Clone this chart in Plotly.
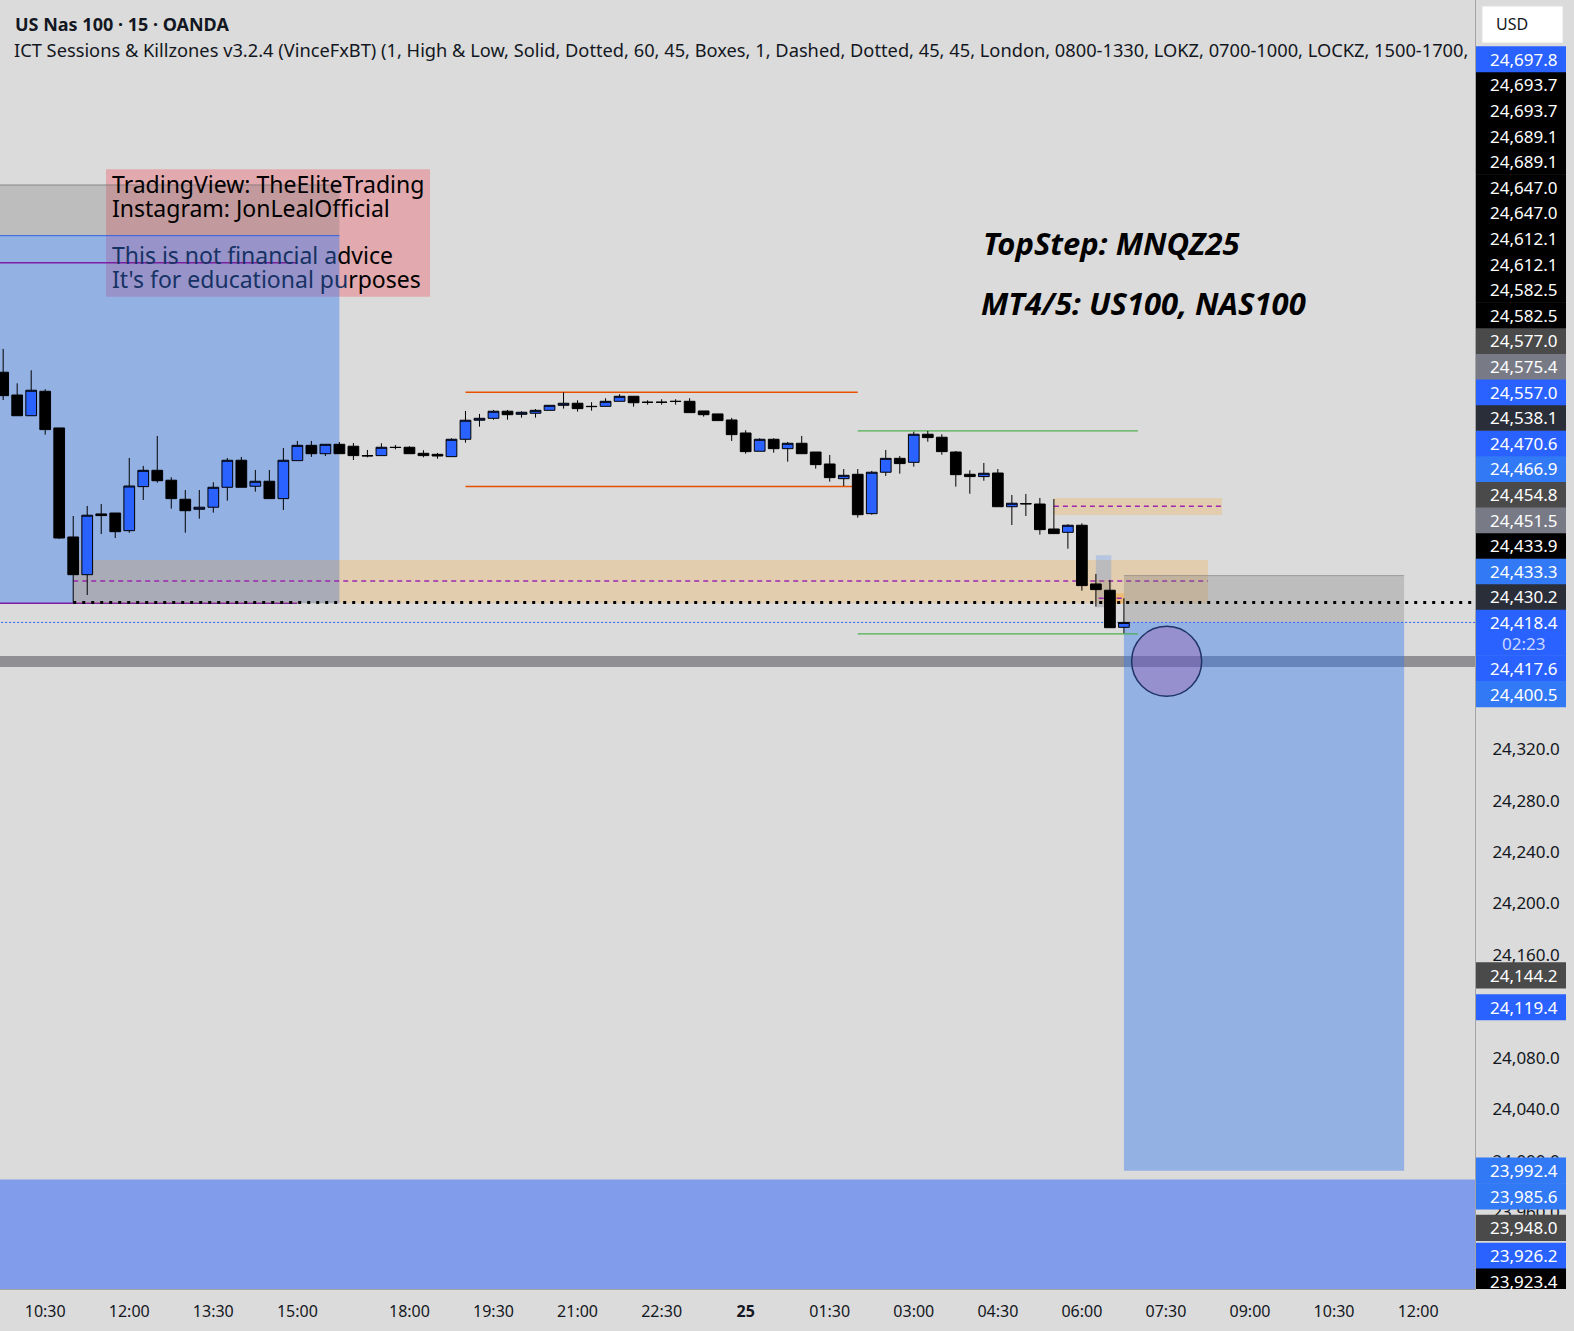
import plotly.graph_objects as go

# ---------------- data ----------------
BAR_INDEX = list(range(-3, 78))
OPEN = [24612.8, 24595.1, 24579.0, 24598.0, 24569.5, 24484.8, 24455.5, 24502.7, 24503.4, 24489.7,
        24523.9, 24536.6, 24528.9, 24514.1, 24506.3, 24507.9, 24523.4, 24544.4, 24524.2, 24528.1,
        24514.6, 24544.1, 24556.0, 24549.5, 24556.8, 24555.3, 24548.0, 24548.0, 24554.5, 24554.5,
        24549.8, 24549.0, 24547.2, 24560.7, 24575.5, 24577.0, 24582.5, 24580.1, 24580.9, 24583.2,
        24587.1, 24588.7, 24586.3, 24586.3, 24590.2, 24594.1, 24589.5, 24589.4, 24590.2, 24590.2,
        24582.7, 24580.4, 24575.7, 24565.6, 24551.4, 24560.7, 24553.4, 24557.6, 24550.8, 24541.5,
        24530.1, 24533.5, 24502.9, 24535.1, 24545.9, 24542.8, 24564.6, 24562.3, 24550.8, 24533.5,
        24531.7, 24534.5, 24508.3, 24510.8, 24510.4, 24491.0, 24488.4, 24493.9, 24448.3, 24443.4,
        24414.6]
HIGH = [24630.9, 24604.2, 24614.3, 24599.6, 24569.5, 24501.1, 24508.9, 24510.4, 24503.4, 24546.2,
        24540.0, 24563.3, 24531.2, 24521.3, 24521.3, 24527.3, 24546.2, 24547.0, 24536.9, 24536.9,
        24553.9, 24559.4, 24559.4, 24556.8, 24558.6, 24557.8, 24552.4, 24557.6, 24556.3, 24555.3,
        24552.2, 24550.1, 24561.5, 24582.7, 24580.4, 24583.5, 24583.5, 24582.5, 24584.2, 24587.1,
        24597.2, 24591.0, 24589.5, 24592.6, 24595.7, 24594.1, 24591.0, 24591.8, 24591.8, 24592.6,
        24582.7, 24580.4, 24577.3, 24567.7, 24561.5, 24561.5, 24558.6, 24563.3, 24550.8, 24548.5,
        24537.6, 24537.6, 24536.1, 24552.4, 24547.7, 24566.6, 24567.2, 24564.6, 24551.6, 24536.6,
        24542.3, 24537.6, 24517.4, 24518.2, 24515.1, 24514.3, 24494.7, 24495.4, 24456.1, 24451.4,
        24437.2]
LOW = [24591.2, 24579.0, 24579.0, 24564.3, 24483.2, 24433.9, 24439.7, 24487.1, 24484.0, 24488.1,
       24513.5, 24527.0, 24506.8, 24488.1, 24499.0, 24503.7, 24513.0, 24523.4, 24520.0, 24514.6,
       24505.8, 24544.1, 24547.0, 24547.7, 24549.5, 24544.6, 24546.7, 24548.0, 24552.9, 24549.5,
       24546.7, 24545.6, 24547.2, 24558.1, 24570.5, 24575.9, 24575.9, 24577.5, 24577.5, 24583.2,
       24584.5, 24582.2, 24582.9, 24586.3, 24590.2, 24586.0, 24587.6, 24587.6, 24587.6, 24581.4,
       24578.3, 24575.2, 24559.4, 24549.5, 24551.4, 24550.3, 24543.3, 24549.5, 24537.9, 24527.8,
       24524.4, 24499.8, 24502.1, 24532.2, 24534.0, 24539.4, 24558.8, 24548.7, 24523.9, 24518.4,
       24528.5, 24508.3, 24494.1, 24501.1, 24486.6, 24487.4, 24475.7, 24443.1, 24430.7, 24414.3,
       24410.0]
CLOSE = [24594.6, 24579.0, 24598.8, 24568.2, 24484.0, 24455.5, 24501.7, 24501.4, 24488.9, 24524.4,
         24536.6, 24528.5, 24514.6, 24505.2, 24507.9, 24523.4, 24544.4, 24523.4, 24528.1, 24514.6,
         24544.4, 24556.0, 24549.5, 24556.8, 24549.5, 24548.0, 24547.8, 24554.5, 24554.3, 24549.5,
         24548.0, 24547.7, 24560.7, 24575.5, 24577.0, 24582.5, 24579.8, 24581.7, 24583.2, 24587.1,
         24588.7, 24584.5, 24586.1, 24590.2, 24594.1, 24589.1, 24589.4, 24589.5, 24590.1, 24581.4,
         24579.8, 24575.2, 24564.3, 24551.1, 24560.7, 24553.4, 24557.6, 24549.5, 24541.0, 24530.9,
         24532.7, 24502.1, 24535.1, 24545.9, 24541.8, 24564.6, 24562.0, 24551.1, 24533.2, 24531.7,
         24534.3, 24508.3, 24511.0, 24510.5, 24490.5, 24487.4, 24493.9, 24447.0, 24443.9, 24414.3,
         24418.4]

TIME_TICK_INDEX = [0, 6, 12, 18, 26, 32, 38, 44, 50, 56, 62, 68, 74, 80, 86, 92, 98]
TIME_TICK_LABELS = ["10:30", "12:00", "13:30", "15:00", "18:00", "19:30", "21:00", "22:30", "<b>25</b>",
                    "01:30", "03:00", "04:30", "06:00", "07:30", "09:00", "10:30", "12:00"]
PRICE_TICKS = [24320, 24280, 24240, 24200, 24160, 24120, 24080, 24040, 24000, 23960]

BLUE, LBLUE, BLACK, DGRAY, GRAY, NAVY = "#2962ff", "#3179f5", "#000000", "#4a4a4a", "#787b86", "#2a2e39"
LABEL_VALUES = [24697.8, 24693.7, 24693.7, 24689.1, 24689.1, 24647.0, 24647.0, 24612.1, 24612.1,
                24582.5, 24582.5, 24577.0, 24575.4, 24557.0, 24538.1, 24470.6, 24466.9, 24454.8,
                24451.5, 24433.9, 24433.3, 24430.2, 24417.6, 24400.5, 24144.2, 24119.4, 23992.4,
                23985.6, 23948.0, 23926.2, 23923.4]
LABEL_COLORS = [BLUE, BLACK, BLACK, BLACK, BLACK, BLACK, BLACK, BLACK, BLACK,
                BLACK, BLACK, DGRAY, GRAY, BLUE, NAVY, BLUE, LBLUE, DGRAY,
                GRAY, BLACK, LBLUE, NAVY, BLUE, LBLUE, DGRAY, BLUE, LBLUE,
                LBLUE, DGRAY, BLUE, BLACK]
CURRENT_PRICE = 24418.4
COUNTDOWN = "02:23"

# drawing levels (prices) and spans (bar index)
SESSION_GRAY = (24718.9, 24758.3)
SESSION_BLUE = (24433.3, 24718.9)
SESSION_END = 21
SESSION_PURPLE = [24697.8, 24433.3]
PURPLE_END = 18
FVG_BIG = (24433.3, 24466.9, 2, 83)
FVG_BIG_MID = 24450.5
FVG_SMALL = (24501.9, 24515.1, 72, 84)
FVG_SMALL_MID = 24508.6
ORANGE_LEVELS = [24597.2, 24524.0]
ORANGE_SPAN = (30, 58)
GREEN_LEVELS = [24567.2, 24409.5]
GREEN_SPAN = (58, 78)
DOTTED_LOW = 24433.9
THICK_LEVEL = 24388.0
STOP = (24418.4, 24454.8)
TARGET = (23992.4, 24418.4)
POSITION_SPAN = (77, 97)
BOTTOM_BAND_TOP = 23985.6
CIRCLE = (80.05, 24388.2, 2.5, 27.2)
NOTE_BOX = (4.34, 27.47, 24671.5, 24770.5)
NOTE_LINES_Y = [24759.0, 24740.6, 24703.6, 24684.9]

# ---------------- geometry ----------------
W, H = 1574, 1331
ML, MR, MT, MB = 0, 99, 0, 42
PLOT_W, PLOT_H = W - ML - MR, H - MT - MB
Y_MIN, Y_MAX = 23900.5, 24902.0
X_MIN, X_MAX = -3.226, 102.06
FONT = "Noto Sans"

def ypx(p):
    return (Y_MAX - p) / (Y_MAX - Y_MIN) * PLOT_H

def py2paper(py):
    return 1 - py / PLOT_H

def px2paper(px):
    return px / PLOT_W

BLUE_FILL = "rgba(50,120,240,0.42)"
PEACH_FILL = "rgba(255,152,0,0.2)"
GRAY_FILL = "rgba(120,120,120,0.3)"

fig = go.Figure()
fig.add_trace(go.Candlestick(
    x=BAR_INDEX, open=OPEN, high=HIGH, low=LOW, close=CLOSE,
    increasing=dict(line=dict(color="#000000", width=1), fillcolor="#2962ff"),
    decreasing=dict(line=dict(color="#000000", width=1), fillcolor="#000000"),
    whiskerwidth=0, hoverinfo="skip", showlegend=False))

shapes = []

def rect(x0, x1, y0, y1, fill, layer="below", xref="x", yref="y"):
    shapes.append(dict(type="rect", xref=xref, yref=yref, x0=x0, x1=x1, y0=y0, y1=y1,
                       fillcolor=fill, line=dict(width=0), layer=layer))

def hline(y, x0, x1, color, width=1, dash="solid"):
    shapes.append(dict(type="line", xref="x", yref="y", x0=x0, x1=x1, y0=y, y1=y,
                       line=dict(color=color, width=width, dash=dash), layer="below"))

# note box (pink) and session boxes
rect(NOTE_BOX[0], NOTE_BOX[1], NOTE_BOX[2], NOTE_BOX[3], "rgba(242,54,69,0.3)")
rect(-10, SESSION_END, SESSION_GRAY[0], SESSION_GRAY[1], GRAY_FILL)
hline(SESSION_GRAY[1], -10, SESSION_END, "rgba(110,110,110,0.7)", 1)
rect(-10, SESSION_END, SESSION_BLUE[0], SESSION_BLUE[1], BLUE_FILL)
hline(SESSION_BLUE[1], -10, SESSION_END, "#2f5fe0", 1)
for lv in SESSION_PURPLE:
    hline(lv, -10, PURPLE_END, "#7b1fa2", 1.5)

# fair value gaps
rect(FVG_BIG[2], FVG_BIG[3], FVG_BIG[0], FVG_BIG[1], PEACH_FILL)
hline(FVG_BIG_MID, FVG_BIG[2], FVG_BIG[3], "#9c27b0", 1.5, "5px,4px")
rect(FVG_SMALL[2], FVG_SMALL[3], FVG_SMALL[0], FVG_SMALL[1], PEACH_FILL)
hline(FVG_SMALL_MID, FVG_SMALL[2], FVG_SMALL[3], "#9c27b0", 1.5, "5px,4px")

# small boxes near the last bars
rect(75, 76.1, 24451.5, 24470.6, "rgba(50,120,240,0.22)")
rect(75, 76.1, 24430.2, 24451.5, GRAY_FILL)
rect(76.07, 77, 24432.7, 24441.0, "rgba(255,152,0,0.35)")
hline(24437.2, 75.2, 77, "#9c27b0", 1.5, "5px,4px")

# thick gray level
hline(THICK_LEVEL, -10, 110, "rgba(80,80,90,0.55)", 11)

# position tool
rect(POSITION_SPAN[0], POSITION_SPAN[1], STOP[0], STOP[1], GRAY_FILL)
hline(STOP[1], POSITION_SPAN[0], POSITION_SPAN[1], "rgba(120,120,120,0.55)", 1)
rect(POSITION_SPAN[0], POSITION_SPAN[1], TARGET[0], TARGET[1], BLUE_FILL)

# bottom band
rect(-10, 110, Y_MIN - 50, BOTTOM_BAND_TOP, "#819ceb")

# circle
cx, cy, rx, ry = CIRCLE
shapes.append(dict(type="circle", xref="x", yref="y", x0=cx - rx, x1=cx + rx, y0=cy - ry, y1=cy + ry,
                   fillcolor="rgba(155,70,160,0.3)", line=dict(color="#1f3565", width=1.5), layer="below"))

# session high/low lines
for lv in ORANGE_LEVELS:
    hline(lv, ORANGE_SPAN[0], ORANGE_SPAN[1], "#e65100", 1.5)
for lv in GREEN_LEVELS:
    hline(lv, GREEN_SPAN[0], GREEN_SPAN[1], "#4caf50", 1.2)

hline(DOTTED_LOW, 2, 110, "#000000", 3, "3px,6px")
hline(CURRENT_PRICE, -10, 110, "#2962ff", 1, "2px,2px")

annotations = []

def ann(text, x, y, size, color="#000000", xanchor="left", xref="x", yref="y", family=FONT, **kw):
    annotations.append(dict(text=text, x=x, y=y, xref=xref, yref=yref, xanchor=xanchor, yanchor="middle",
                            showarrow=False, font=dict(family=family, size=size, color=color), **kw))

# note text
NAVY_TXT = "#163264"
note_x = 4.6
ann("TradingView: TheEliteTrading", note_x, NOTE_LINES_Y[0], 23)
ann("Instagram: JonLealOfficial", note_x, NOTE_LINES_Y[1], 23)
ann('<span style="color:%s">This is not financial a</span>dvice' % NAVY_TXT, note_x, NOTE_LINES_Y[2], 23)
ann('<span style="color:%s">It\'s for educational pu</span>rposes' % NAVY_TXT, note_x, NOTE_LINES_Y[3], 23)

# symbol texts
ann("<b><i>TopStep: MNQZ25</i></b>", 66.8, 24713.2, 31)
ann("<b><i>MT4/5: US100, NAS100</i></b>", 66.66, 24666.6, 31)

# header
ann("<b>US Nas 100 · 15 · OANDA</b>", px2paper(13), py2paper(24), 18, "#131722", xref="paper", yref="paper")
ann("ICT Sessions & Killzones v3.2.4 (VinceFxBT) (1, High & Low, Solid, Dotted, 60, 45, Boxes, 1, Dashed, "
    "Dotted, 45, 45, London, 0800-1330, LOKZ, 0700-1000, LOCKZ, 1500-1700,",
    px2paper(12), py2paper(50), 18.25, "#131722", xref="paper", yref="paper")

# USD box
shapes.append(dict(type="rect", xref="paper", yref="paper", x0=px2paper(1482), x1=px2paper(1563),
                   y0=py2paper(43), y1=py2paper(6), fillcolor="#ffffff", line=dict(color="#e0e0e0", width=1),
                   layer="above"))
ann("USD", px2paper(1494), py2paper(24.5), 16, "#131722", xref="paper", yref="paper")

# price-axis labels with collision stacking
LBL_H = 25.6
CUR_BLOCK_H = 46
LX0, LX1, LXT = px2paper(1476), px2paper(1566), px2paper(1524)
c0 = ypx(CURRENT_PRICE)
top0 = c0 - LBL_H / 2
bot0 = top0 + CUR_BLOCK_H
pairs = list(zip(LABEL_VALUES, LABEL_COLORS))
above = sorted([p for p in pairs if p[0] > CURRENT_PRICE], key=lambda t: t[0])
below = sorted([p for p in pairs if p[0] <= CURRENT_PRICE], key=lambda t: -t[0])
placed = []
edge = top0
for v, col in above:
    c = min(ypx(v), edge - LBL_H / 2)
    placed.append((v, col, c))
    edge = c - LBL_H / 2
edge = bot0
for v, col in below:
    c = max(ypx(v), edge + LBL_H / 2)
    placed.append((v, col, c))
    edge = c + LBL_H / 2

for v, col, c in placed:
    t = max(0, c - LBL_H / 2 - 0.3)
    b = min(PLOT_H, c + LBL_H / 2 + 0.3)
    shapes.append(dict(type="rect", xref="paper", yref="paper", x0=LX0, x1=LX1,
                       y0=py2paper(b), y1=py2paper(t), fillcolor=col, line=dict(width=0), layer="above"))
    ann(f"{v:,.1f}", LXT, py2paper(c), 17, "#ffffff", xanchor="center", xref="paper", yref="paper")

shapes.append(dict(type="rect", xref="paper", yref="paper", x0=LX0, x1=LX1,
                   y0=py2paper(bot0), y1=py2paper(top0), fillcolor=BLUE, line=dict(width=0), layer="above"))
ann(f"{CURRENT_PRICE:,.1f}", LXT, py2paper(c0), 17, "#ffffff", xanchor="center", xref="paper", yref="paper")
ann(COUNTDOWN, LXT, py2paper(c0 + 21), 17, "#c9d6ff", xanchor="center", xref="paper", yref="paper")

fig.update_layout(
    width=W, height=H,
    margin=dict(l=ML, r=MR, t=MT, b=MB, pad=0),
    paper_bgcolor="#dbdbdb", plot_bgcolor="#dbdbdb",
    showlegend=False, hovermode=False,
    boxgap=0.1, boxgroupgap=0.15,
    shapes=shapes, annotations=annotations,
    font=dict(family=FONT, color="#131722"),
    xaxis=dict(range=[X_MIN, X_MAX], tickvals=TIME_TICK_INDEX, ticktext=TIME_TICK_LABELS,
               showgrid=False, zeroline=False, showline=True, linecolor="#a3a3a3", linewidth=1,
               ticks="", tickfont=dict(family=FONT, size=16, color="#131722"),
               ticklabelstandoff=8, rangeslider=dict(visible=False), fixedrange=True),
    yaxis=dict(range=[Y_MIN, Y_MAX], side="right", tickvals=PRICE_TICKS,
               ticktext=[f"{v:,.1f}" for v in PRICE_TICKS],
               showgrid=False, zeroline=False, showline=True, linecolor="#a3a3a3", linewidth=1,
               ticks="", tickfont=dict(family=FONT, size=17, color="#131722"),
               ticklabelstandoff=13, fixedrange=True),
)

fig.write_html("out.html", config={"displayModeBar": False})
